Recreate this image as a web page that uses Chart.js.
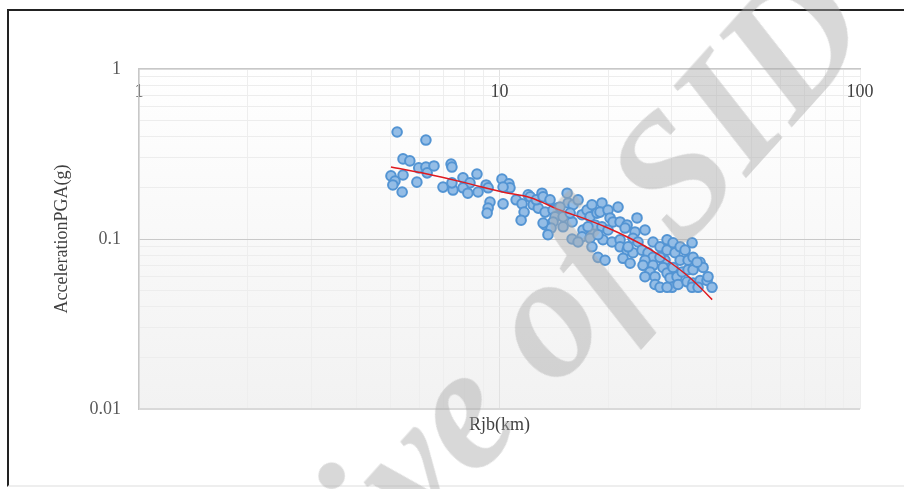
<!DOCTYPE html>
<html>
<head>
<meta charset="utf-8">
<script src="https://cdn.jsdelivr.net/npm/chart.js@4"></script>
<style>
  html, body { margin: 0; padding: 0; background: #fff; overflow: hidden; }
  #wrap { position: relative; width: 904px; height: 489px; overflow: hidden; }
  #frame {
    position: absolute; left: 7px; top: 9px; width: 1000px; height: 474px;
    border-left: 2px solid #222; border-top: 2px solid #222; border-bottom: 2px solid #eeeeee;
  }
  #chart { position: absolute; left: 0; top: 0; }
  #mark {
    position: absolute; left: 40px; top: 744px;
    font: italic bold 175px 'Liberation Serif', serif; line-height: 1;
    color: rgba(170, 170, 170, 0.46); white-space: nowrap;
    transform-origin: 0 0; transform: rotate(-48deg); pointer-events: none;
  }
</style>
</head>
<body>
<div id="wrap">
  <div id="frame"></div>
  <canvas id="chart" width="904" height="489"></canvas>
  <div id="mark">Archive of SID</div>
</div>
<script>
// distance Rjb (km) and PGA (g)
const rjb = [
  5.20, 6.25, 5.40, 5.64, 5.00, 5.13, 5.06, 5.40, 5.37, 5.90,
  5.97, 6.25, 6.30, 6.58, 7.34, 7.38, 6.97, 7.43, 7.38, 7.92,
  8.28, 7.92, 8.17, 8.66, 8.72, 9.18, 9.30, 9.41, 9.30, 9.24,
  10.16, 10.23, 10.62, 10.69, 10.23, 11.12, 11.55, 11.70, 11.48, 12.01,
  12.17, 12.40, 12.81, 12.65, 13.12, 13.21, 13.81, 13.38, 14.44, 14.08,
  14.26, 14.08, 13.38, 13.90, 13.63, 13.21, 15.01, 15.01, 15.40, 15.50,
  16.00, 16.52, 14.72, 15.90, 15.70, 15.90, 16.94, 17.49, 18.05, 17.83,
  18.64, 19.24, 19.00, 20.00, 20.26, 21.32, 17.05, 16.94, 16.52, 18.05,
  17.83, 18.05, 18.76, 19.62, 18.40, 19.24, 20.00, 20.65, 21.60, 22.59,
  19.37, 20.52, 21.60, 21.60, 24.07, 22.30, 23.76, 25.33, 23.46, 24.22,
  22.59, 23.46, 24.85, 26.66, 27.88, 29.16, 25.82, 26.66, 25.33, 22.02,
  23.03, 29.16, 28.79, 17.60, 18.76, 22.73, 30.30, 25.01, 26.66, 26.15,
  27.88, 30.69, 31.70, 32.72, 34.21, 28.42, 29.16, 30.30, 27.00, 27.00,
  29.73, 31.08, 32.10, 33.35, 31.70, 33.35, 34.43, 36.00, 30.11, 31.28,
  33.14, 34.43, 36.00, 34.21, 35.55, 37.64, 36.70, 37.88, 38.86, 27.88,
  29.16, 34.43, 35.32, 25.33
];
const pga = [
  0.426, 0.382, 0.296, 0.288, 0.235, 0.219, 0.208, 0.238, 0.189, 0.216,
  0.262, 0.265, 0.245, 0.269, 0.276, 0.265, 0.202, 0.194, 0.214, 0.229,
  0.214, 0.200, 0.186, 0.241, 0.189, 0.208, 0.200, 0.165, 0.152, 0.142,
  0.225, 0.161, 0.211, 0.200, 0.202, 0.170, 0.161, 0.144, 0.129, 0.182,
  0.177, 0.159, 0.152, 0.170, 0.186, 0.177, 0.170, 0.144, 0.152, 0.148,
  0.135, 0.126, 0.121, 0.116, 0.106, 0.124, 0.135, 0.118, 0.186, 0.163,
  0.159, 0.170, 0.154, 0.126, 0.142, 0.100, 0.139, 0.148, 0.159, 0.135,
  0.142, 0.163, 0.144, 0.148, 0.133, 0.154, 0.113, 0.103, 0.096, 0.113,
  0.101, 0.090, 0.078, 0.075, 0.121, 0.118, 0.113, 0.126, 0.126, 0.121,
  0.099, 0.096, 0.099, 0.090, 0.133, 0.116, 0.110, 0.113, 0.101, 0.096,
  0.086, 0.083, 0.086, 0.096, 0.090, 0.099, 0.083, 0.078, 0.075, 0.077,
  0.072, 0.086, 0.075, 0.118, 0.106, 0.090, 0.095, 0.070, 0.070, 0.064,
  0.078, 0.083, 0.090, 0.086, 0.095, 0.068, 0.063, 0.068, 0.060, 0.054,
  0.059, 0.060, 0.064, 0.066, 0.075, 0.075, 0.078, 0.073, 0.052, 0.054,
  0.056, 0.055, 0.057, 0.052, 0.052, 0.057, 0.068, 0.060, 0.052, 0.052,
  0.052, 0.066, 0.073, 0.060
];

// red trend curve, read at a few distances
const trendRjb = [5.0, 6.3, 7.9, 10.2, 12.2, 14.7, 17.5, 20.0, 23.0, 26.2, 29.7, 33.8, 36.0, 38.9];
const trendPga = [0.265, 0.241, 0.216, 0.189, 0.175, 0.148, 0.130, 0.116, 0.101, 0.087, 0.073, 0.059, 0.052, 0.044];

// grid ticks and the ones that carry labels
const xGrid = [1, 2, 3, 4, 5, 6, 7, 8, 9, 10, 20, 30, 40, 50, 60, 70, 80, 90, 100];
const yGrid = [0.01, 0.02, 0.03, 0.04, 0.05, 0.06, 0.07, 0.08, 0.09, 0.1, 0.2, 0.3, 0.4, 0.5, 0.6, 0.7, 0.8, 0.9, 1];
const xLabels = [1, 10, 100];
const yLabels = [0.01, 0.1, 1];

const serif = "'Liberation Serif', 'Times New Roman', serif";

const plotBg = {
  id: 'plotBg',
  beforeDraw(chart) {
    const { ctx, chartArea: a } = chart;
    const g = ctx.createLinearGradient(0, a.top, 0, a.bottom);
    g.addColorStop(0, '#ffffff');
    g.addColorStop(1, '#f2f2f2');
    ctx.save();
    ctx.fillStyle = g;
    ctx.fillRect(a.left, a.top, a.right - a.left, a.bottom - a.top);
    ctx.restore();
  }
};

new Chart(document.getElementById('chart'), {
  type: 'scatter',
  data: {
    datasets: [
      {
        type: 'line',
        data: trendRjb.map((x, i) => ({ x, y: trendPga[i] })),
        borderColor: '#e0191e',
        borderWidth: 1.5,
        pointRadius: 0,
        cubicInterpolationMode: 'monotone',
        order: 0
      },
      {
        data: rjb.map((x, i) => ({ x, y: pga[i] })),
        backgroundColor: '#94bde6',
        borderColor: '#5394d3',
        borderWidth: 2,
        pointRadius: 4.8,
        order: 1
      }
    ]
  },
  options: {
    responsive: false,
    animation: false,
    layout: { padding: { top: 69, right: 44, bottom: 0, left: 0 } },
    plugins: { legend: { display: false }, tooltip: { enabled: false } },
    scales: {
      x: {
        type: 'logarithmic',
        min: 1, max: 100,
        position: { y: 1 },
        afterBuildTicks: s => { s.ticks = xGrid.map(v => ({ value: v })); },
        grid: {
          drawTicks: false,
          color: c => (c.tick && c.tick.value === 10) ? '#e2e2e2' : '#eeeeee'
        },
        border: { color: '#c8c8c8', width: 1.5 },
        ticks: {
          autoSkip: false, maxRotation: 0, padding: 12,
          color: '#404040', font: { family: serif, size: 18 },
          callback: v => xLabels.includes(v) ? String(v) : ''
        }
      },
      x2: {
        type: 'logarithmic',
        min: 1, max: 100,
        position: 'bottom',
        afterFit: s => { s.height = 80; },
        grid: { display: false, drawTicks: false },
        border: { display: false },
        ticks: { display: false },
        title: {
          display: true, text: 'Rjb(km)', color: '#404040',
          font: { family: serif, size: 18 }, padding: { top: 0, bottom: 53 }
        }
      },
      y: {
        type: 'logarithmic',
        min: 0.01, max: 1,
        position: 'left',
        afterFit: s => { s.width = 139; },
        afterBuildTicks: s => { s.ticks = yGrid.map(v => ({ value: v })); },
        grid: {
          drawTicks: false,
          color: c => {
            const v = c.tick && c.tick.value;
            if (v === 0.1) return '#c9c9c9';
            if (v === 0.01) return '#d9d9d9';
            return '#ededed';
          },
          lineWidth: c => (c.tick && c.tick.value === 0.01) ? 2 : 1
        },
        border: { color: '#c8c8c8', width: 1.5 },
        ticks: {
          autoSkip: false, padding: 18,
          color: '#595959', font: { family: serif, size: 18 },
          callback: v => yLabels.includes(v) ? String(v) : ''
        },
        title: {
          display: true, text: 'AccelerationPGA(g)', color: '#404040',
          font: { family: serif, size: 18 }, padding: { top: 51, bottom: 0 }
        }
      }
    }
  },
  plugins: [plotBg]
});
</script>
</body>
</html>
